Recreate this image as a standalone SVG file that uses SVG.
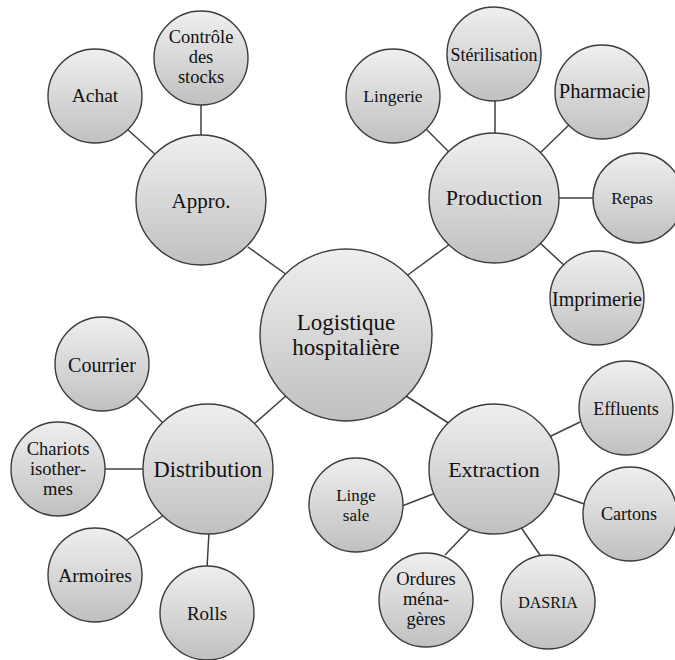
<svg xmlns="http://www.w3.org/2000/svg" width="675" height="660" viewBox="0 0 675 660">
<defs>
<linearGradient id="g" x1="0" y1="0" x2="0" y2="1">
<stop offset="0" stop-color="#efefef"/>
<stop offset="1" stop-color="#c0c0c0"/>
</linearGradient>
</defs>
<style>
.n{fill:url(#g);stroke:#3c3c3c;stroke-width:1.4}
.c line{stroke:#404040;stroke-width:1.5}
text{font-family:'Liberation Serif','Times New Roman',serif;fill:#111111;text-anchor:middle;font-size:18.5px}
.t1{font-size:23px}
.t2{font-size:22px}
</style>
<rect width="675" height="660" fill="#ffffff"/>
<g id="connectors" class="c">
<line x1="248" y1="247" x2="287" y2="275"/>
<line x1="405" y1="277" x2="450" y2="244"/>
<line x1="253" y1="425" x2="287" y2="395"/>
<line x1="406" y1="396" x2="450" y2="424"/>
<line x1="127" y1="129" x2="157" y2="156"/>
<line x1="201" y1="103" x2="201" y2="138"/>
<line x1="425" y1="128" x2="451" y2="154"/>
<line x1="495" y1="100" x2="495" y2="135"/>
<line x1="570" y1="124" x2="540" y2="153"/>
<line x1="558" y1="198" x2="594" y2="198"/>
<line x1="540" y1="243" x2="566" y2="267"/>
<line x1="135" y1="395" x2="165" y2="425"/>
<line x1="104" y1="469" x2="145" y2="469"/>
<line x1="127" y1="540" x2="164" y2="515"/>
<line x1="209" y1="532" x2="207" y2="568"/>
<line x1="549" y1="437" x2="580" y2="422"/>
<line x1="553" y1="493" x2="587" y2="505"/>
<line x1="402" y1="506" x2="433" y2="494"/>
<line x1="445" y1="555" x2="470" y2="529"/>
<line x1="540" y1="555" x2="520" y2="526"/>
</g>
<g id="node-center">
<circle class="n" cx="346" cy="335" r="86"/>
<text class="t1" x="346" y="330">Logistique</text>
<text class="t1" x="346" y="355">hospitalière</text>
</g>
<g id="node-appro">
<circle class="n" cx="201" cy="200" r="65"/>
<text class="t2" x="201" y="208" style="font-size:21px">Appro.</text>
</g>
<g id="node-achat">
<circle class="n" cx="95" cy="96" r="47"/>
<text x="95" y="102" style="font-size:19.5px">Achat</text>
</g>
<g id="node-controle">
<circle class="n" cx="201" cy="58" r="47"/>
<text x="201" y="43">Contrôle</text>
<text x="201" y="63">des</text>
<text x="201" y="83">stocks</text>
</g>
<g id="node-production">
<circle class="n" cx="494" cy="198" r="65"/>
<text class="t2" x="494" y="205">Production</text>
</g>
<g id="node-lingerie">
<circle class="n" cx="393" cy="96" r="47"/>
<text x="393" y="102" style="font-size:17.5px">Lingerie</text>
</g>
<g id="node-sterilisation">
<circle class="n" cx="494" cy="54" r="47"/>
<text x="494" y="61" style="font-size:18px">Stérilisation</text>
</g>
<g id="node-pharmacie">
<circle class="n" cx="602" cy="92" r="47"/>
<text x="602" y="98" style="font-size:20.5px">Pharmacie</text>
</g>
<g id="node-repas">
<circle class="n" cx="638" cy="198" r="45"/>
<text x="632" y="204" style="font-size:17px">Repas</text>
</g>
<g id="node-imprimerie">
<circle class="n" cx="597" cy="298" r="47"/>
<text x="597" y="306" style="font-size:20px">Imprimerie</text>
</g>
<g id="node-distribution">
<circle class="n" cx="208" cy="469" r="65"/>
<text class="t2" x="208" y="477" style="font-size:22.5px">Distribution</text>
</g>
<g id="node-courrier">
<circle class="n" cx="102" cy="364" r="47"/>
<text x="102" y="372" style="font-size:20px">Courrier</text>
</g>
<g id="node-chariots">
<circle class="n" cx="58" cy="469" r="47"/>
<text x="58" y="455">Chariots</text>
<text x="58" y="475">isother-</text>
<text x="58" y="495">mes</text>
</g>
<g id="node-armoires">
<circle class="n" cx="95" cy="575" r="47"/>
<text x="95" y="582" style="font-size:19.5px">Armoires</text>
</g>
<g id="node-rolls">
<circle class="n" cx="207" cy="613" r="47"/>
<text x="207" y="620" style="font-size:19px">Rolls</text>
</g>
<g id="node-extraction">
<circle class="n" cx="494" cy="469" r="65"/>
<text class="t2" x="494" y="477">Extraction</text>
</g>
<g id="node-effluents">
<circle class="n" cx="626" cy="408" r="47"/>
<text x="626" y="415" style="font-size:18px">Effluents</text>
</g>
<g id="node-cartons">
<circle class="n" cx="630" cy="514" r="47"/>
<text x="629" y="520" style="font-size:18px">Cartons</text>
</g>
<g id="node-linge">
<circle class="n" cx="356" cy="505" r="47"/>
<text x="356" y="501" style="font-size:17px">Linge</text>
<text x="356" y="521" style="font-size:17px">sale</text>
</g>
<g id="node-ordures">
<circle class="n" cx="426" cy="600" r="47"/>
<text x="426" y="585">Ordures</text>
<text x="426" y="605">ména-</text>
<text x="426" y="625">gères</text>
</g>
<g id="node-dasria">
<circle class="n" cx="548" cy="602" r="47"/>
<text x="548" y="608" style="font-size:16px">DASRIA</text>
</g>
</svg>
